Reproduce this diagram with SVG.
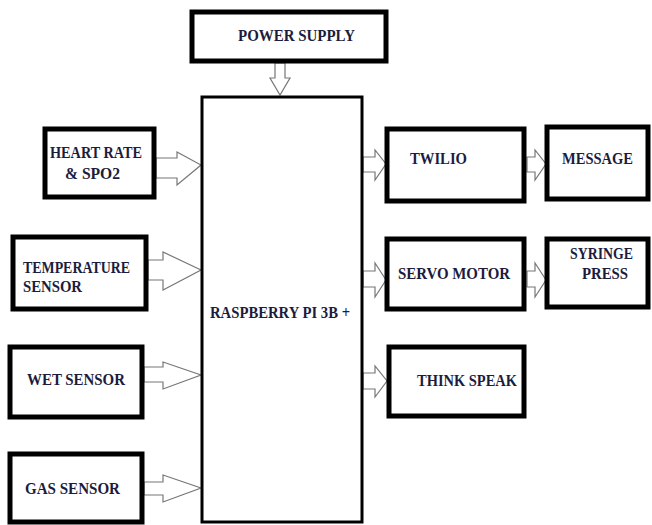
<svg xmlns="http://www.w3.org/2000/svg" width="652" height="525" viewBox="0 0 652 525">
<style>
.box{fill:#fff;stroke:#000;stroke-width:5}
.rpi{fill:#fff;stroke:#000;stroke-width:3}
.arr{fill:#fff;stroke:#777;stroke-width:1.2}
text{font-family:"Liberation Serif","Times New Roman",serif;font-weight:bold;font-size:16px;fill:#1c1c3c}
</style>
<rect width="652" height="525" fill="#fff"/>
<g id="connectors">
<polygon class="arr" points="275,63 285,63 285,78 290,78 280,95 270,78 275,78"/>
<polygon class="arr" points="156,158 177,158 177,152 201,165 177,185 177,178 156,178"/>
<polygon class="arr" points="148,260 163,260 163,252 201,270 163,290 163,280 148,280"/>
<polygon class="arr" points="144,367 163,367 163,362 201,375 163,389 163,382 144,382"/>
<polygon class="arr" points="144,482 163,482 163,475 201,488 163,502 163,495 144,495"/>
<polygon class="arr" points="363,157 375,157 375,150 386,164 375,180 375,172 363,172"/>
<polygon class="arr" points="527,157 535,157 535,150 546,164 535,180 535,172 527,172"/>
<polygon class="arr" points="363,271 375,271 375,263 386,280 375,297 375,287 363,287"/>
<polygon class="arr" points="527,271 535,271 535,263 546,280 535,297 535,287 527,287"/>
<polygon class="arr" points="363,373 375,373 375,366 387,381 375,397 375,389 363,389"/>
</g>
<g id="power-supply"><rect class="box" x="192" y="12" width="194" height="49"/><text x="238" y="41" textLength="117" lengthAdjust="spacingAndGlyphs">POWER SUPPLY</text></g>
<g id="raspberry-pi"><rect class="rpi" x="202" y="97" width="160" height="425"/><text x="210" y="318" textLength="140" lengthAdjust="spacingAndGlyphs">RASPBERRY PI 3B +</text></g>
<g id="heart-rate"><rect class="box" x="45" y="129" width="109" height="68"/><text x="50" y="158" textLength="92" lengthAdjust="spacingAndGlyphs">HEART RATE</text><text x="65" y="179" textLength="55" lengthAdjust="spacingAndGlyphs">&amp; SPO2</text></g>
<g id="temperature"><rect class="box" x="13" y="237" width="133" height="72"/><text x="23" y="273" textLength="107" lengthAdjust="spacingAndGlyphs">TEMPERATURE</text><text x="23" y="292" textLength="59" lengthAdjust="spacingAndGlyphs">SENSOR</text></g>
<g id="wet-sensor"><rect class="box" x="10" y="347" width="132" height="70"/><text x="27" y="385" textLength="98" lengthAdjust="spacingAndGlyphs">WET SENSOR</text></g>
<g id="gas-sensor"><rect class="box" x="10" y="454" width="132" height="68"/><text x="25" y="494" textLength="95" lengthAdjust="spacingAndGlyphs">GAS SENSOR</text></g>
<g id="twilio"><rect class="box" x="387" y="129" width="137" height="72"/><text x="410" y="164" textLength="57" lengthAdjust="spacingAndGlyphs">TWILIO</text></g>
<g id="message"><rect class="box" x="547" y="127" width="101" height="72"/><text x="562" y="164" textLength="71" lengthAdjust="spacingAndGlyphs">MESSAGE</text></g>
<g id="servo-motor"><rect class="box" x="387" y="239" width="137" height="70"/><text x="398" y="279" textLength="112" lengthAdjust="spacingAndGlyphs">SERVO MOTOR</text></g>
<g id="syringe-press"><rect class="box" x="547" y="239" width="101" height="68"/><text x="570" y="259" textLength="63" lengthAdjust="spacingAndGlyphs">SYRINGE</text><text x="582" y="279" textLength="46" lengthAdjust="spacingAndGlyphs">PRESS</text></g>
<g id="think-speak"><rect class="box" x="389" y="347" width="135" height="69"/><text x="417" y="386" textLength="100" lengthAdjust="spacingAndGlyphs">THINK SPEAK</text></g>
</svg>
